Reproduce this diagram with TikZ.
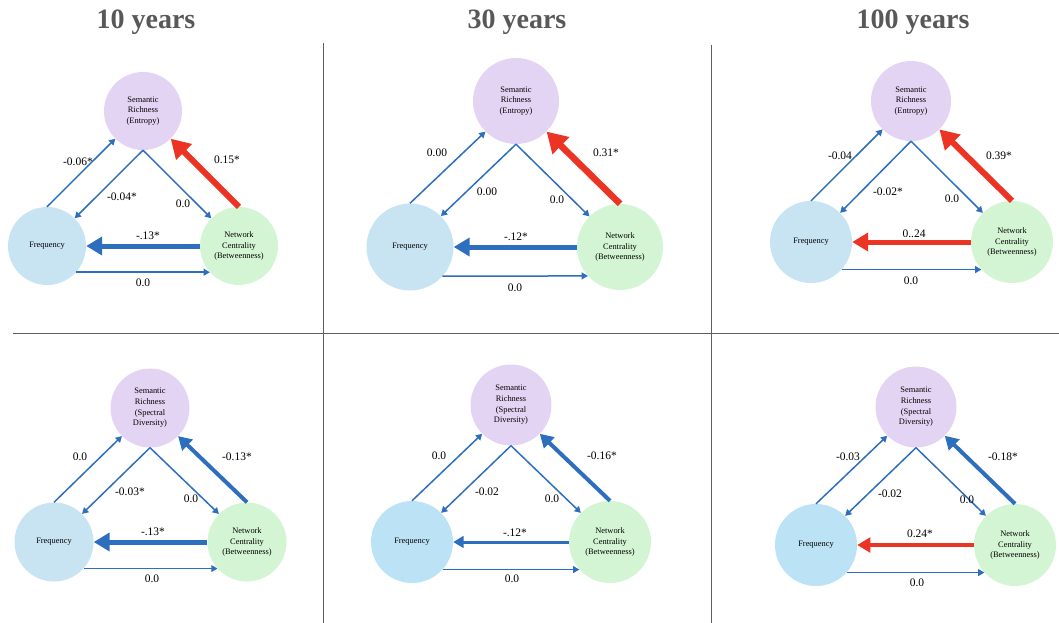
\documentclass[tikz,border=0pt]{standalone}
\usepackage{fontspec}
\setmainfont{Liberation Serif}
\usetikzlibrary{arrows.meta}
\definecolor{semfill}{RGB}{228,212,244}
\definecolor{frqfill}{RGB}{200,227,242}
\definecolor{frqdeep}{RGB}{188,226,245}
\definecolor{netfill}{RGB}{212,245,212}
\definecolor{effblue}{RGB}{46,110,190}
\definecolor{effred}{RGB}{236,52,36}
\definecolor{titlegray}{RGB}{88,88,88}
\definecolor{rulegray}{RGB}{95,95,95}

\begin{document}
\begin{tikzpicture}[x=1pt, y=-1pt,
    var/.style={circle, inner sep=0pt, minimum size=#1, align=center, font=\fontsize{8.4}{10.6}\selectfont},
    sem/.style={var=#1, fill=semfill},
    frq/.style={var=#1, fill=frqfill},
    cen/.style={var=#1, fill=netfill},
    effect/.style={draw=effblue, line width=1.5pt, -{Triangle[length=2pt 2.8, width=2pt 3.2]}},
    wlab/.style={font=\fontsize{11.5}{13}\selectfont, inner sep=0pt},
    ttl/.style={font=\fontsize{28}{30}\selectfont\bfseries, text=titlegray},
    panelrule/.style={draw=rulegray, line width=1pt}]
    \useasboundingbox (0,0) rectangle (1059,623);
    % --- titles and panel rules ---
    \node[ttl] (t10) at (146,22) {10 years};
    \node[ttl] (t30) at (517,22) {30 years};
    \node[ttl] (t100) at (913,22) {100 years};
    \draw[panelrule] (323,43) -- (323,623);
    \draw[panelrule] (711,45) -- (711,623);
    \draw[panelrule] (13,333) -- (1059,333);

    % --- 10 years, entropy ---
    \node[sem=78pt] (s1) at (143,111) {Semantic\\Richness\\(Entropy)};
    \node[frq=78pt] (f1) at (47,246) {Frequency};
    \node[cen=78pt] (n1) at (239,246) {Network\\Centrality\\(Betweenness)};
    \draw[effect] (f1.90) -- (s1.225);
    \draw[effect] (s1.270) -- (f1.45);
    \draw[effect] (s1.270) -- (n1.135);
    \draw[effect, draw=effred, line width=6pt] (n1.90) -- (s1.315);
    \draw[effect, line width=5pt] (n1.180) -- (f1.0);
    \draw[effect] (f1.-42) -- (n1.-138);
    \node[wlab] (w1a) at (78,162) {-0.06*};
    \node[wlab] (w1b) at (122,197) {-0.04*};
    \node[wlab] (w1c) at (183,204) {0.0};
    \node[wlab] (w1d) at (227,160) {0.15*};
    \node[wlab] (w1e) at (148,236) {-.13*};
    \node[wlab] (w1f) at (143,283) {0.0};

    % --- 30 years, entropy ---
    \node[sem=86pt] (s2) at (516,101) {Semantic\\Richness\\(Entropy)};
    \node[frq=87pt] (f2) at (410,247) {Frequency};
    \node[cen=86pt] (n2) at (620,247) {Network\\Centrality\\(Betweenness)};
    \draw[effect] (f2.90) -- (s2.225);
    \draw[effect] (s2.270) -- (f2.45);
    \draw[effect] (s2.270) -- (n2.135);
    \draw[effect, draw=effred, line width=6.5pt] (n2.90) -- (s2.315);
    \draw[effect, line width=5pt] (n2.180) -- (f2.0);
    \draw[effect] (f2.-42) -- (n2.-138);
    \node[wlab] (w2a) at (437,153) {0.00};
    \node[wlab] (w2b) at (487,192) {0.00};
    \node[wlab] (w2c) at (557,200) {0.0};
    \node[wlab] (w2d) at (606,153) {0.31*};
    \node[wlab] (w2e) at (516,237) {-.12*};
    \node[wlab] (w2f) at (515,288) {0.0};

    % --- 100 years, entropy ---
    \node[sem=80pt] (s3) at (911,101) {Semantic\\Richness\\(Entropy)};
    \node[frq=82pt] (f3) at (811,242) {Frequency};
    \node[cen=82pt] (n3) at (1012,242) {Network\\Centrality\\(Betweenness)};
    \draw[effect] (f3.90) -- (s3.225);
    \draw[effect] (s3.270) -- (f3.45);
    \draw[effect] (s3.270) -- (n3.135);
    \draw[effect, draw=effred, line width=6pt] (n3.90) -- (s3.315);
    \draw[effect, draw=effred, line width=5pt] (n3.180) -- (f3.0);
    \draw[effect] (f3.-42) -- (n3.-138);
    \node[wlab] (w3a) at (840,156) {-0.04};
    \node[wlab] (w3b) at (888,192) {-0.02*};
    \node[wlab] (w3c) at (952,199) {0.0};
    \node[wlab] (w3d) at (999,156) {0.39*};
    \node[wlab] (w3e) at (914,234) {0..24};
    \node[wlab] (w3f) at (911,281) {0.0};

    % --- 10 years, spectral diversity ---
    \node[sem=79pt] (s4) at (150,408) {Semantic\\Richness\\(Spectral\\Diversity)};
    \node[frq=79pt] (f4) at (54,542) {Frequency};
    \node[cen=79pt] (n4) at (247,542) {Network\\Centrality\\(Betweenness)};
    \draw[effect] (f4.90) -- (s4.225);
    \draw[effect] (s4.270) -- (f4.45);
    \draw[effect] (s4.270) -- (n4.135);
    \draw[effect, line width=4pt] (n4.90) -- (s4.315);
    \draw[effect, line width=5pt] (n4.180) -- (f4.0);
    \draw[effect] (f4.-42) -- (n4.-138);
    \node[wlab] (w4a) at (80,457) {0.0};
    \node[wlab] (w4b) at (130,492) {-0.03*};
    \node[wlab] (w4c) at (191,499) {0.0};
    \node[wlab] (w4d) at (237,457) {-0.13*};
    \node[wlab] (w4e) at (153,532) {-.13*};
    \node[wlab] (w4f) at (152,579) {0.0};

    % --- 30 years, spectral diversity ---
    \node[sem=81pt] (s5) at (511,405) {Semantic\\Richness\\(Spectral\\Diversity)};
    \node[frq=82pt, fill=frqdeep] (f5) at (412,542) {Frequency};
    \node[cen=82pt] (n5) at (610,542) {Network\\Centrality\\(Betweenness)};
    \draw[effect] (f5.90) -- (s5.225);
    \draw[effect] (s5.270) -- (f5.45);
    \draw[effect] (s5.270) -- (n5.135);
    \draw[effect, line width=4pt] (n5.90) -- (s5.315);
    \draw[effect, line width=3pt] (n5.180) -- (f5.0);
    \draw[effect] (f5.-42) -- (n5.-138);
    \node[wlab] (w5a) at (439,456) {0.0};
    \node[wlab] (w5b) at (487,492) {-0.02};
    \node[wlab] (w5c) at (552,499) {0.0};
    \node[wlab] (w5d) at (602,456) {-0.16*};
    \node[wlab] (w5e) at (515,533) {-.12*};
    \node[wlab] (w5f) at (512,579) {0.0};

    % --- 100 years, spectral diversity ---
    \node[sem=81pt] (s6) at (916,407) {Semantic\\Richness\\(Spectral\\Diversity)};
    \node[frq=82pt, fill=frqdeep] (f6) at (816,545) {Frequency};
    \node[cen=82pt] (n6) at (1015,545) {Network\\Centrality\\(Betweenness)};
    \draw[effect] (f6.90) -- (s6.225);
    \draw[effect] (s6.270) -- (f6.45);
    \draw[effect] (s6.270) -- (n6.135);
    \draw[effect, line width=4pt] (n6.90) -- (s6.315);
    \draw[effect, draw=effred, line width=4pt] (n6.180) -- (f6.0);
    \draw[effect] (f6.-42) -- (n6.-138);
    \node[wlab] (w6a) at (848,457) {-0.03};
    \node[wlab] (w6b) at (890,494) {-0.02};
    \node[wlab] (w6c) at (967,500) {0.0};
    \node[wlab] (w6d) at (1003,457) {-0.18*};
    \node[wlab] (w6e) at (920,534) {0.24*};
    \node[wlab] (w6f) at (917,583) {0.0};
\end{tikzpicture}
\end{document}
